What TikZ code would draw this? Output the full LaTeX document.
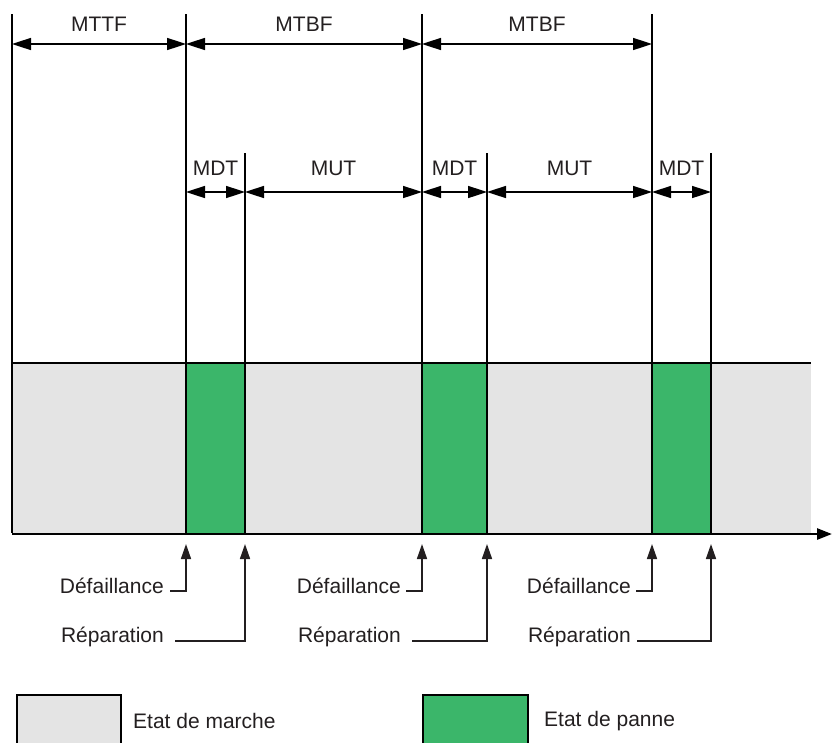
\documentclass[tikz,border=0pt]{standalone}
\usepackage{fontspec}
\setmainfont{Liberation Sans}
\usetikzlibrary{arrows.meta}
\definecolor{upgray}{HTML}{E4E4E4}
\definecolor{downgreen}{HTML}{3BB66A}
\definecolor{inkgray}{HTML}{231F20}
\tikzset{
  lbl/.style={inner sep=0pt, text=inkgray, font=\fontsize{21}{25}\selectfont},
  tick/.style={line width=1.6pt, black},
  dim/.style={line width=1.6pt, black, {Triangle[length=19pt,width=12pt]}-{Triangle[length=19pt,width=12pt]}},
  pointer/.style={line width=1.6pt, inkgray, -{Triangle[length=15pt,width=10pt]}},
  legendbox/.style={draw=black, line width=1.6pt}
}
\begin{document}
\begin{tikzpicture}[x=1pt,y=-1pt]
\useasboundingbox (0,0) rectangle (832,742);

% state band: operating (grey) and failed (green) intervals
\fill[upgray] (12,363) rectangle (811,533);
\fill[downgreen] (186,363) rectangle (245,533);
\fill[downgreen] (422,363) rectangle (487,533);
\fill[downgreen] (652,363) rectangle (711,533);
\draw[line width=2pt] (12,363) -- (811,363);

% event instants: top, bottom, dimension levels and pointer tips
\coordinate (zT) at (12,14);   \coordinate (zB) at (12,533);
\coordinate (aT) at (186,14);  \coordinate (aB) at (186,533);
\coordinate (bT) at (245,153); \coordinate (bB) at (245,533);
\coordinate (cT) at (422,14);  \coordinate (cB) at (422,533);
\coordinate (dT) at (487,153); \coordinate (dB) at (487,533);
\coordinate (eT) at (652,14);  \coordinate (eB) at (652,533);
\coordinate (fT) at (711,153); \coordinate (fB) at (711,533);

\coordinate (zU) at (12,44);  \coordinate (aU) at (186,44);
\coordinate (cU) at (422,44); \coordinate (eU) at (652,44);

\coordinate (aM) at (186,192); \coordinate (bM) at (245,192);
\coordinate (cM) at (422,192); \coordinate (dM) at (487,192);
\coordinate (eM) at (652,192); \coordinate (fM) at (711,192);

\coordinate (aF) at (186,544); \coordinate (bF) at (245,544);
\coordinate (cF) at (422,544); \coordinate (dF) at (487,544);
\coordinate (eF) at (652,544); \coordinate (fF) at (711,544);

\draw[tick] (zT) -- (zB);
\draw[tick] (aT) -- (aB);
\draw[tick] (bT) -- (bB);
\draw[tick] (cT) -- (cB);
\draw[tick] (dT) -- (dB);
\draw[tick] (eT) -- (eB);
\draw[tick] (fT) -- (fB);

% time axis
\coordinate (axstart) at (12,534);
\coordinate (axend) at (832,534);
\draw[line width=2.6pt, -{Triangle[length=15pt,width=11pt]}] (axstart) -- (axend);

% mean time intervals
\draw[dim] (zU) -- (aU);
\draw[dim] (aU) -- (cU);
\draw[dim] (cU) -- (eU);
\node[lbl] (mttf) at (99,24) {MTTF};
\node[lbl] (mtbf1) at (304,24) {MTBF};
\node[lbl] (mtbf2) at (537,24) {MTBF};

\draw[dim] (aM) -- (bM);
\draw[dim] (bM) -- (cM);
\draw[dim] (cM) -- (dM);
\draw[dim] (dM) -- (eM);
\draw[dim] (eM) -- (fM);
\node[lbl] (mdt1) at (215.5,168) {MDT};
\node[lbl] (mut1) at (333.5,168) {MUT};
\node[lbl] (mdt2) at (454.5,168) {MDT};
\node[lbl] (mut2) at (569.5,168) {MUT};
\node[lbl] (mdt3) at (681.5,168) {MDT};

% failure and repair events
\node[lbl, anchor=east] (fail1) at (164,586) {Défaillance};
\node[lbl, anchor=east] (rep1) at (164,637) {Réparation};
\node[lbl, anchor=east] (fail2) at (401,586) {Défaillance};
\node[lbl, anchor=east] (rep2) at (401,637) {Réparation};
\node[lbl, anchor=east] (fail3) at (631,586) {Défaillance};
\node[lbl, anchor=east] (rep3) at (631,637) {Réparation};

\coordinate (fs1) at (170,591); \coordinate (rs1) at (175,641);
\coordinate (fs2) at (406,591); \coordinate (rs2) at (412,641);
\coordinate (fs3) at (636,591); \coordinate (rs3) at (637,641);

\draw[pointer] (fs1) -| (aF);
\draw[pointer] (rs1) -| (bF);
\draw[pointer] (fs2) -| (cF);
\draw[pointer] (rs2) -| (dF);
\draw[pointer] (fs3) -| (eF);
\draw[pointer] (rs3) -| (fF);

% legend
\draw[legendbox, fill=upgray] (17,695) rectangle (121,750);
\node[lbl, anchor=west] (legup) at (133,721) {Etat de marche};
\draw[legendbox, fill=downgreen] (423,695) rectangle (528,750);
\node[lbl, anchor=west] (legdown) at (544,721) {Etat de panne};
\end{tikzpicture}
\end{document}
